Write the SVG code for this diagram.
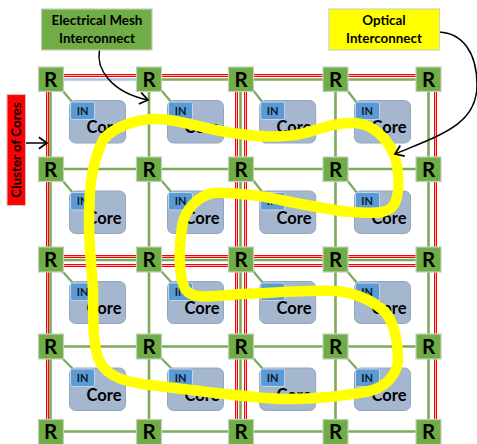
<svg xmlns="http://www.w3.org/2000/svg" width="477" height="444" viewBox="0 0 477 444">
<style>
text{font-family:"Lato","Liberation Sans",sans-serif;font-weight:700;fill:#000;text-anchor:middle}
.ro{fill:none;stroke:#ff0000;stroke-width:3}
.rw{fill:none;stroke:#ffb4b4;stroke-width:1}
.g{fill:none;stroke:#7cab5c;stroke-width:2.6}
.b{fill:none;stroke:#a6c4e4;stroke-width:2.6}
.link{fill:none;stroke:#7cab5c;stroke-width:2.2}
.rb{fill:#70ad47;stroke:#c3cfbb;stroke-width:1.2}
.rt{font-size:20.5px}
.cb{fill:#a5b6cf;stroke:#94a6bf;stroke-width:1}
.ib{fill:#5b9bd5;stroke:#c5d5e8;stroke-width:1}
.it{font-size:11px;fill:#0a1a2a}
.ct{font-size:16.5px}
.lb{font-size:13.4px}
.ar{fill:none;stroke:#000;stroke-width:1.5;marker-end:url(#h)}
</style>
<defs>
<marker id="h" markerUnits="userSpaceOnUse" markerWidth="14" markerHeight="14" refX="10" refY="6" orient="auto" viewBox="0 0 12 12"><path d="M3 1L10 6L3 11" fill="none" stroke="#000" stroke-width="1.5"/></marker>
</defs>
<g id="connectors">
<path class="ro" d="M63 75.500H416M63 256.500H416M63 265.500H416M47.500 91V419M236.500 91V419M245.500 91V419M435.500 91V419"/>
<path class="rw" d="M63 75.500H416M63 256.500H416M63 265.500H416M47.500 91V419M236.500 91V419M245.500 91V419M435.500 91V419"/>
<path class="b" d="M63 79.500H137"/>
<path class="g" d="M162 79.500H416M63 169H416M63 260H416M63 346.500H416M63 431.500H416M50.500 91V420M149 91V420M240.500 91V420M335.500 91V420M428.500 91V420"/>
<path class="link" d="M62 90L73 103M161 90L172 103M253 90L263 103M347 90L357 103M62 180L73 193M161 180L172 193M253 180L263 193M347 180L357 193M62 271L73 283M161 271L172 283M253 271L263 283M347 271L357 283M62 358L73 369M161 358L172 369M253 358L263 369M347 358L357 369"/>
</g>
<g id="core-1-1"><rect class="cb" x="69.500" y="100.500" width="56" height="42.500" rx="6"/><rect class="ib" x="70.500" y="102" width="24" height="17.500" rx="2"/><text class="it" x="82.500" y="114.500">IN</text><text class="ct" x="104" y="133">Core</text></g>
<g id="core-1-2"><rect class="cb" x="167.500" y="100.500" width="56" height="42.500" rx="6"/><rect class="ib" x="168.500" y="102" width="24" height="17.500" rx="2"/><text class="it" x="180.500" y="114.500">IN</text><text class="ct" x="202" y="133">Core</text></g>
<g id="core-1-3"><rect class="cb" x="259.700" y="100.500" width="56" height="42.500" rx="6"/><rect class="ib" x="260.700" y="102" width="24" height="17.500" rx="2"/><text class="it" x="272.700" y="114.500">IN</text><text class="ct" x="294" y="133">Core</text></g>
<g id="core-1-4"><rect class="cb" x="354.500" y="100.500" width="56" height="42.500" rx="6"/><rect class="ib" x="355.500" y="102" width="24" height="17.500" rx="2"/><text class="it" x="367" y="114.500">IN</text><text class="ct" x="389" y="133">Core</text></g>
<g id="core-2-1"><rect class="cb" x="69.500" y="191" width="56" height="42.500" rx="6"/><rect class="ib" x="70.500" y="192.500" width="24" height="17.500" rx="2"/><text class="it" x="82.500" y="205">IN</text><text class="ct" x="104" y="223.500">Core</text></g>
<g id="core-2-2"><rect class="cb" x="167.500" y="191" width="56" height="42.500" rx="6"/><rect class="ib" x="168.500" y="192.500" width="24" height="17.500" rx="2"/><text class="it" x="180.500" y="205">IN</text><text class="ct" x="202" y="223.500">Core</text></g>
<g id="core-2-3"><rect class="cb" x="259.700" y="191" width="56" height="42.500" rx="6"/><rect class="ib" x="260.700" y="192.500" width="24" height="17.500" rx="2"/><text class="it" x="272.700" y="205">IN</text><text class="ct" x="294" y="223.500">Core</text></g>
<g id="core-2-4"><rect class="cb" x="354.500" y="191" width="56" height="42.500" rx="6"/><rect class="ib" x="355.500" y="192.500" width="24" height="17.500" rx="2"/><text class="it" x="367" y="205">IN</text><text class="ct" x="389" y="223.500">Core</text></g>
<g id="core-3-1"><rect class="cb" x="69.500" y="281.500" width="56" height="42" rx="6"/><rect class="ib" x="70.500" y="283" width="24" height="17.500" rx="2"/><text class="it" x="82.500" y="295.500">IN</text><text class="ct" x="104" y="314">Core</text></g>
<g id="core-3-2"><rect class="cb" x="167.500" y="281.500" width="56" height="42" rx="6"/><rect class="ib" x="168.500" y="283" width="24" height="17.500" rx="2"/><text class="it" x="180.500" y="295.500">IN</text><text class="ct" x="202" y="314">Core</text></g>
<g id="core-3-3"><rect class="cb" x="259.700" y="281.500" width="56" height="42" rx="6"/><rect class="ib" x="260.700" y="283" width="24" height="17.500" rx="2"/><text class="it" x="272.700" y="295.500">IN</text><text class="ct" x="294" y="314">Core</text></g>
<g id="core-3-4"><rect class="cb" x="354.500" y="281.500" width="56" height="42" rx="6"/><rect class="ib" x="355.500" y="283" width="24" height="17.500" rx="2"/><text class="it" x="367" y="295.500">IN</text><text class="ct" x="389" y="314">Core</text></g>
<g id="core-4-1"><rect class="cb" x="69.500" y="368" width="56" height="42.500" rx="6"/><rect class="ib" x="70.500" y="369" width="24" height="17.500" rx="2"/><text class="it" x="82.500" y="381.500">IN</text><text class="ct" x="104" y="400.500">Core</text></g>
<g id="core-4-2"><rect class="cb" x="167.500" y="368" width="56" height="42.500" rx="6"/><rect class="ib" x="168.500" y="369" width="24" height="17.500" rx="2"/><text class="it" x="180.500" y="381.500">IN</text><text class="ct" x="202" y="400.500">Core</text></g>
<g id="core-4-3"><rect class="cb" x="259.700" y="368" width="56" height="42.500" rx="6"/><rect class="ib" x="260.700" y="369" width="24" height="17.500" rx="2"/><text class="it" x="272.700" y="381.500">IN</text><text class="ct" x="294" y="400.500">Core</text></g>
<g id="core-4-4"><rect class="cb" x="354.500" y="368" width="56" height="42.500" rx="6"/><rect class="ib" x="355.500" y="369" width="24" height="17.500" rx="2"/><text class="it" x="367" y="381.500">IN</text><text class="ct" x="389" y="400.500">Core</text></g>
<g id="r-1-1"><rect class="rb" x="38.500" y="67" width="25" height="24.500"/><text class="rt" x="50.500" y="86.500">R</text></g>
<g id="r-1-2"><rect class="rb" x="136.500" y="67" width="25" height="24.500"/><text class="rt" x="149" y="86.500">R</text></g>
<g id="r-1-3"><rect class="rb" x="228.500" y="67" width="25" height="24.500"/><text class="rt" x="241" y="86.500">R</text></g>
<g id="r-1-4"><rect class="rb" x="323" y="67" width="25" height="24.500"/><text class="rt" x="335.500" y="86.500">R</text></g>
<g id="r-1-5"><rect class="rb" x="416" y="67" width="25" height="24.500"/><text class="rt" x="428.500" y="86.500">R</text></g>
<g id="r-2-1"><rect class="rb" x="38.500" y="157" width="25" height="24.500"/><text class="rt" x="50.500" y="176.500">R</text></g>
<g id="r-2-2"><rect class="rb" x="136.500" y="157" width="25" height="24.500"/><text class="rt" x="149" y="176.500">R</text></g>
<g id="r-2-3"><rect class="rb" x="228.500" y="157" width="25" height="24.500"/><text class="rt" x="241" y="176.500">R</text></g>
<g id="r-2-4"><rect class="rb" x="323" y="157" width="25" height="24.500"/><text class="rt" x="335.500" y="176.500">R</text></g>
<g id="r-2-5"><rect class="rb" x="416" y="157" width="25" height="24.500"/><text class="rt" x="428.500" y="176.500">R</text></g>
<g id="r-3-1"><rect class="rb" x="38.500" y="247" width="25" height="25"/><text class="rt" x="50.500" y="266.500">R</text></g>
<g id="r-3-2"><rect class="rb" x="136.500" y="247" width="25" height="25"/><text class="rt" x="149" y="266.500">R</text></g>
<g id="r-3-3"><rect class="rb" x="228.500" y="247" width="25" height="25"/><text class="rt" x="241" y="266.500">R</text></g>
<g id="r-3-4"><rect class="rb" x="323" y="247" width="25" height="25"/><text class="rt" x="335.500" y="266.500">R</text></g>
<g id="r-3-5"><rect class="rb" x="416" y="247" width="25" height="25"/><text class="rt" x="428.500" y="266.500">R</text></g>
<g id="r-4-1"><rect class="rb" x="38.500" y="334" width="25" height="25"/><text class="rt" x="50.500" y="353.500">R</text></g>
<g id="r-4-2"><rect class="rb" x="136.500" y="334" width="25" height="25"/><text class="rt" x="149" y="353.500">R</text></g>
<g id="r-4-3"><rect class="rb" x="228.500" y="334" width="25" height="25"/><text class="rt" x="241" y="353.500">R</text></g>
<g id="r-4-4"><rect class="rb" x="323" y="334" width="25" height="25"/><text class="rt" x="335.500" y="353.500">R</text></g>
<g id="r-4-5"><rect class="rb" x="416" y="334" width="25" height="25"/><text class="rt" x="428.500" y="353.500">R</text></g>
<g id="r-5-1"><rect class="rb" x="38.500" y="419.500" width="25" height="25"/><text class="rt" x="50.500" y="438.500">R</text></g>
<g id="r-5-2"><rect class="rb" x="136.500" y="419.500" width="25" height="25"/><text class="rt" x="149" y="438.500">R</text></g>
<g id="r-5-3"><rect class="rb" x="228.500" y="419.500" width="25" height="25"/><text class="rt" x="241" y="438.500">R</text></g>
<g id="r-5-4"><rect class="rb" x="323" y="419.500" width="25" height="25"/><text class="rt" x="335.500" y="438.500">R</text></g>
<g id="r-5-5"><rect class="rb" x="416" y="419.500" width="25" height="25"/><text class="rt" x="428.500" y="438.500">R</text></g>
<g id="optical-path"><path fill="none" stroke="#ffff00" stroke-width="10.500" stroke-linejoin="round" stroke-linecap="round" d="M89 222C89 195 90 167 103 140C112 128 135 119 157 119C180 119 210 131 240 134C262 138 290 137 305 133C325 127 340 122 355 123C372 124 388 138 395 157C399 172 400 190 395 203C390 213 380 214 351 212C330 210 300 204 271 198C255 195 225 192 213 193C198 196 184 210 182 227C179 245 178 275 185 289C192 299 205 297 240 294C270 293 310 290 335 291C355 292 375 302 385 312C396 325 398 345 398 362C396 375 385 389 365 392C340 396 320 399 285 399C260 399 200 391 150 385C125 382 108 377 100 362C93 350 93 320 93 289C92 270 89 250 89 222Z"/></g>
<g id="arrows">
<path class="ar" d="M99.500 50C96 68 110 92 148 100"/>
<path class="ar" d="M439 32C462 33 477 52 477 85C477 125 440 135 395 154"/>
<path class="ar" d="M25 143H47"/>
</g>
<g id="label-electrical"><rect x="41.500" y="9" width="110.500" height="41" fill="#70ad47" stroke="#c3cfbb" stroke-width="1.200"/><text class="lb" x="97" y="25">Electrical Mesh</text><text class="lb" x="97" y="43">Interconnect</text></g>
<g id="label-optical"><rect x="329" y="9" width="110.500" height="41" fill="#ffff00" stroke="#cfd3bf" stroke-width="1.200"/><text class="lb" x="384" y="25">Optical</text><text class="lb" x="384" y="43">Interconnect</text></g>
<g id="label-cluster"><rect x="7" y="94.500" width="18.500" height="111" fill="#ff0000" stroke="#e0c0c0" stroke-width="1"/><text class="lb" x="0" y="0" transform="translate(21 150) rotate(-90)">Cluster of Cores</text></g>
</svg>
